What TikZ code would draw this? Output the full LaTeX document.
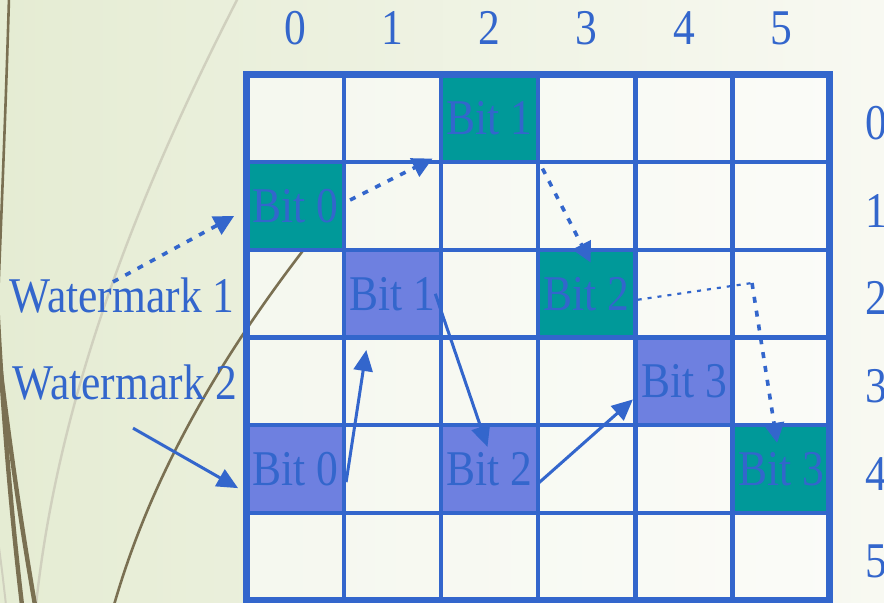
\documentclass[tikz,border=0pt]{standalone}
\usepackage{fontspec}
\setmainfont{Liberation Serif}[FakeStretch=0.87]
\usepackage{tikz}
\usetikzlibrary{arrows.meta, positioning, calc}
\definecolor{wmblue}{HTML}{3366CC}
\definecolor{wmteal}{HTML}{009999}
\definecolor{wmviolet}{HTML}{6E80E0}
\definecolor{wmstem}{HTML}{7A7052}
\definecolor{wmreed}{HTML}{D0D0BE}
\definecolor{wmbgleft}{HTML}{E5ECD3}
\definecolor{wmbgright}{HTML}{F8F9F2}

\begin{document}
\begin{tikzpicture}[
    x=0.5pt, y=-0.5pt,
    font=\fontsize{25}{30}\selectfont,
    every node/.style={text=wmblue},
    indexlabel/.style={inner sep=0pt, anchor=base},
    bitcell/.style={rectangle, minimum width=48.6pt, minimum height=43.85pt, inner sep=0pt},
    wmone/.style={bitcell, fill=wmteal},
    wmtwo/.style={bitcell, fill=wmviolet},
    gridline/.style={draw=wmblue, line width=2.2pt},
    dotarrow/.style={-{Triangle[length=10pt,width=10pt]}, wmblue, line width=1.8pt, dash pattern=on 3pt off 4pt},
    thindot/.style={wmblue, line width=1.1pt, dash pattern=on 2pt off 3pt},
    arrow/.style={-{Triangle[length=10.5pt,width=9.5pt]}, wmblue, line width=1.5pt}
]
\useasboundingbox (0,0) rectangle (884,603);
\clip (0,0) rectangle (884,603);

% Background
\shade[left color=wmbgleft, right color=wmbgright] (0,0) rectangle (884,603);
\draw[wmreed, line width=1.2pt] (238,-2) .. controls (150,170) and (60,380) .. (36,605);
\draw[wmreed, line width=1pt] (-2,540) .. controls (2,570) .. (6,605);
\draw[wmstem, line width=1.3pt] (9,-2) .. controls (6,100) and (2,200) .. (-2,300);
\draw[wmstem, line width=2.2pt] (-3,300) .. controls (3,420) and (12,520) .. (22,605);
\draw[wmstem, line width=2.2pt] (-3,340) .. controls (10,450) and (22,530) .. (35,605);

% Cells
\fill[white, opacity=0.55] (246.5,74.5) rectangle (829.7,600.7);
\draw[wmstem, line width=1.3pt] (305,248) .. controls (215,365) and (150,480) .. (114,605);
\foreach \r in {0,...,5}
  \foreach \c in {0,...,5}
    \coordinate (c\r\c) at ({246.5+97.2*(\c+0.5)}, {74.5+87.7*(\r+0.5)});

% Watermark 1
\node[wmone] (wa0) at (c10) {Bit 0};
\node[wmone] (wa1) at (c02) {Bit 1};
\node[wmone] (wa2) at (c23) {Bit 2};
\node[wmone] (wa3) at (c45) {Bit 3};

% Watermark 2
\node[wmtwo] (wb0) at (c40) {Bit 0};
\node[wmtwo] (wb1) at (c21) {Bit 1};
\node[wmtwo] (wb2) at (c42) {Bit 2};
\node[wmtwo] (wb3) at (c34) {Bit 3};

% Grid
\foreach \i in {1,...,5} {
  \draw[gridline] ({246.5+97.2*\i},74.5) -- ({246.5+97.2*\i},600.7);
  \draw[gridline] (246.5,{74.5+87.7*\i}) -- (829.7,{74.5+87.7*\i});
}
\draw[wmblue, line width=3.3pt] (246.5,74.5) rectangle (829.7,600.7);

% Indices
\foreach \c in {0,...,5}
  \node[indexlabel] (col\c) at ({246.5+97.2*(\c+0.5)}, 45) {\c};
\foreach \r in {0,...,5}
  \node[indexlabel] (row\r) at (876, {74.5+87.7*(\r+0.5)+21}) {\r};

\node[indexlabel] (wm1) at (122,313) {Watermark 1};
\node[indexlabel] (wm2) at (125,400) {Watermark 2};

% Edges
\draw[dotarrow] ([xshift=-4.5pt,yshift=-2pt]wm1.north) -- ([xshift=-6pt,yshift=-5pt]wa0.west);
\draw[dotarrow] ([xshift=3pt,yshift=3pt]wa0.east) -- ([xshift=-4pt,yshift=2pt]wa1.south west);
\draw[dotarrow] ([xshift=2pt,yshift=-3pt]wa1.south east) -- ([xshift=2pt,yshift=-6.5pt]wa2.north);
\coordinate (bend) at (752,283);
\draw[thindot] ([xshift=1pt,yshift=-3pt]wa2.east) -- (bend);
\draw[dotarrow] (bend) -- ([xshift=-2pt,yshift=-9pt]wa3.north);

\draw[arrow] ([xshift=4pt,yshift=-13.5pt]wm2.south) -- ([xshift=-4pt,yshift=-9.5pt]wb0.west);
\draw[arrow] ([xshift=1pt,yshift=-6.5pt]wb0.east) -- ([xshift=-13pt,yshift=-6pt]wb1.south);
\draw[arrow] ([xshift=-3pt]wb1.east) -- ([xshift=-1pt,yshift=-11pt]wb2.north);
\draw[arrow] ([yshift=-7pt]wb2.east) -- ([xshift=-1pt,yshift=-9pt]wb3.west);
\end{tikzpicture}
\end{document}
